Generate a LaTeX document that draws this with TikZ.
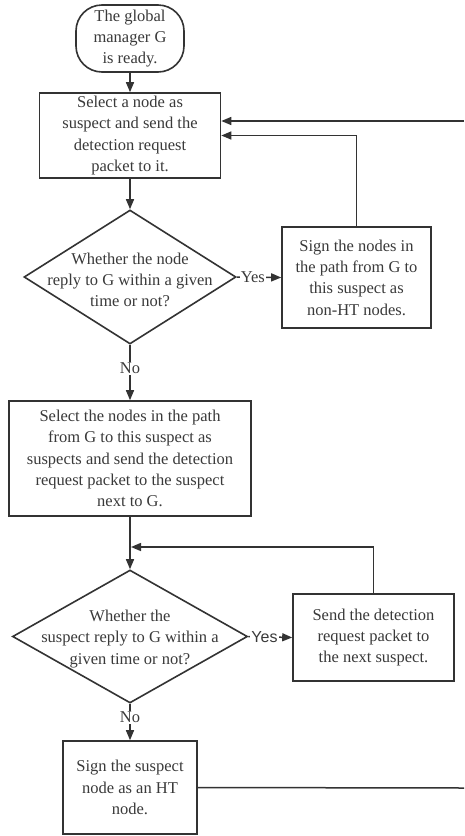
\documentclass[tikz,border=0pt]{standalone}
\usepackage{fontspec}
\setmainfont{Liberation Serif}
\newfontfamily\arialfont{Liberation Sans}
\usetikzlibrary{shapes.geometric,arrows.meta}
\definecolor{lnc}{HTML}{333333}
\definecolor{txc}{HTML}{3A3A3A}
\begin{document}
\begin{tikzpicture}[x=1pt,y=-1pt,
  base/.style={draw=lnc, line width=1.6pt, text=txc, font=\fontsize{16.5}{21.3}\selectfont, align=center, inner sep=0pt},
  proc/.style={base, rectangle},
  term/.style={base, rectangle, rounded corners=26pt},
  dec/.style={base, diamond},
  txt/.style={text=txc, font=\fontsize{16.5}{21.3}\selectfont, align=center, inner sep=0pt},
  arr/.style={draw=lnc, line width=1.5pt, -{Triangle[length=10pt,width=8pt]}},
  plain/.style={draw=lnc, line width=1.5pt},
  lbl/.style={fill=white, text=txc, font=\fontsize{16.5}{20}\selectfont, inner sep=1pt}]
\useasboundingbox (0,0) rectangle (464,836);
\fill[white] (0,0) rectangle (464,836);

\node[term, minimum width=108pt, minimum height=67pt] (start) at (130,38.5) {The global\\manager G\\is ready.};
\node[proc, minimum width=181pt, minimum height=85pt] (b1) at (130,135.5) {Select a node as\\suspect and send the\\detection request\\packet to it.};
\node[dec, aspect=1.582, minimum width=212pt, minimum height=134pt] (d1) at (130,277) {};
\node[txt] (d1t) at (130,280) {Whether the node\\reply to G within a given\\time or not?};
\node[proc, minimum width=149pt, minimum height=101pt] (b2) at (356.5,277.5) {Sign the nodes in\\the path from G to\\this suspect as\\non-HT nodes.};
\node[proc, minimum width=242pt, minimum height=115pt] (b3) at (130,458.5) {Select the nodes in the path\\from G to this suspect as\\suspects and send the detection\\request packet to the suspect\\next to G.};
\node[dec, aspect=1.767, minimum width=235pt, minimum height=133pt] (d2) at (130,636.5) {};
\node[txt] (d2t) at (130,639) {Whether the\\suspect reply to G within a\\given time or not?};
\node[proc, minimum width=161pt, minimum height=87pt] (b4) at (373.5,637.5) {Send the detection\\request packet to\\the next suspect.};
\node[proc, minimum width=134pt, minimum height=93pt] (b5) at (130,787.5) {Sign the suspect\\node as an HT\\node.};

\coordinate (r1) at (464,121);
\coordinate (j2) at (131,547);
\coordinate (r2) at (464,788);

\draw[arr] (start.south) -- (b1.north);
\draw[arr] (b1.south) -- (d1.north);
\draw[arr] (d1.east) -- node[lbl,pos=0.36]{Yes} (b2.west);
\draw[arr] (b2.north) |- (b1.east);
\draw[arr] (r1) -- (r1 -| b1.east);
\draw[arr] (d1.south) -- node[lbl,pos=0.42]{No} (b3.north);
\draw[arr] (b3.south) -- (d2.north);
\draw[arr] (b4.north) |- (j2);
\draw[arr] (d2.east) -- node[lbl,font=\arialfont\fontsize{16}{20}\selectfont,pos=0.37]{Yes} (b4.west);
\draw[arr] (d2.south) -- node[lbl,pos=0.37]{No} (b5.north);
\draw[plain] (b5.east) -- (r2);
\end{tikzpicture}
\end{document}
